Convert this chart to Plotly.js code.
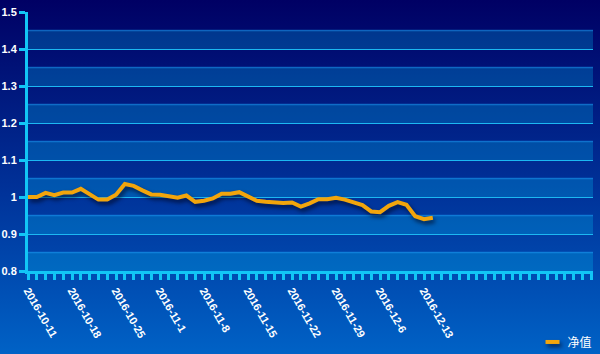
<!DOCTYPE html>
<html>
<head>
<meta charset="utf-8">
<script src="https://cdn.plot.ly/plotly-3.0.1.min.js"></script>
<style>
  html, body { margin: 0; padding: 0; }
  #chart { width: 600px; height: 354px; background: linear-gradient(to bottom, #000064 0%, #00339a 55%, #0062c6 100%); }
  .scatterlayer .trace .js-line { filter: drop-shadow(2px 3px 2px rgba(0,0,20,0.65)); }
  .legend .traces .js-line { filter: drop-shadow(2px 3px 2px rgba(0,0,20,0.65)); }
</style>
</head>
<body>
<div id="chart"></div>
<script>
// Trading dates (categories)
const dates = [
  "2016-10-11","2016-10-12","2016-10-13","2016-10-14",
  "2016-10-17","2016-10-18","2016-10-19","2016-10-20","2016-10-21",
  "2016-10-24","2016-10-25","2016-10-26","2016-10-27","2016-10-28",
  "2016-10-31","2016-11-1","2016-11-2","2016-11-3","2016-11-4",
  "2016-11-7","2016-11-8","2016-11-9","2016-11-10","2016-11-11",
  "2016-11-14","2016-11-15","2016-11-16","2016-11-17","2016-11-18",
  "2016-11-21","2016-11-22","2016-11-23","2016-11-24","2016-11-25",
  "2016-11-28","2016-11-29","2016-11-30","2016-12-1","2016-12-2",
  "2016-12-5","2016-12-6","2016-12-7","2016-12-8","2016-12-9",
  "2016-12-12","2016-12-13","2016-12-14"
];
// Net value series
const netValue = [
  1.000,1.000,1.011,1.005,1.012,1.012,1.022,1.008,0.993,0.993,
  1.006,1.035,1.030,1.018,1.007,1.006,1.002,0.998,1.004,0.987,
  0.990,0.996,1.009,1.009,1.013,1.002,0.990,0.987,0.985,0.984,
  0.985,0.974,0.983,0.994,0.994,0.998,0.993,0.986,0.978,0.961,
  0.959,0.976,0.986,0.979,0.948,0.940,0.944
];
const seriesName = "净值";
const yTicks = [0.8, 0.9, 1.0, 1.1, 1.2, 1.3, 1.4, 1.5];
const labelEvery = 5;
const totalSlots = 64;

const xIdx = dates.map((d, i) => i);
const tickvals = [];
const ticktext = [];
for (let i = 0; i <= totalSlots; i++) {
  tickvals.push(i);
  ticktext.push(i < dates.length && i % labelEvery === 0 ? dates[i] : "");
}

const shapes = [];
for (let k = 0; k < yTicks.length - 1; k++) {
  const lo = yTicks[k], mid = +(lo + 0.05).toFixed(2);
  shapes.push({type: "rect", xref: "paper", x0: 0, x1: 1, yref: "y", y0: lo, y1: mid,
    fillcolor: "rgba(0,213,255,0.23)", line: {width: 0}, layer: "below"});
  shapes.push({type: "line", xref: "paper", x0: 0, x1: 1, yref: "y", y0: mid, y1: mid,
    line: {color: "rgba(30,170,255,0.5)", width: 1.5}, layer: "below"});
}

const trace = {
  x: xIdx, y: netValue, name: seriesName, type: "scatter", mode: "lines",
  line: {color: "#f2a50c", width: 4}, showlegend: true,
  hoverinfo: "skip"
};

const layout = {
  width: 600, height: 354,
  margin: {l: 28, r: 7, t: 12, b: 83, autoexpand: false},
  paper_bgcolor: "rgba(0,0,0,0)", plot_bgcolor: "rgba(0,0,0,0)",
  font: {family: "Liberation Sans, Arial, sans-serif", color: "#ffffff", size: 11},
  xaxis: {
    range: [0, 64.2], tickmode: "array", tickvals: tickvals, ticktext: ticktext,
    tickangle: 60, ticks: "outside", ticklen: 6, tickwidth: 3, tickcolor: "#12c6f6",
    showline: true, linecolor: "#12c6f6", linewidth: 3, showgrid: false, zeroline: false,
    tickfont: {size: 11, color: "#ffffff", weight: "bold"}, fixedrange: true, automargin: false
  },
  yaxis: {
    range: [0.8, 1.5], tickvals: yTicks, ticks: "outside", ticklen: 6, tickwidth: 3,
    tickcolor: "#12c6f6", showline: true, linecolor: "#12c6f6", linewidth: 3,
    showgrid: true, gridcolor: "#1cb8f2", gridwidth: 1, zeroline: false,
    tickfont: {size: 11, color: "#ffffff", weight: "bold"}, fixedrange: true, automargin: false
  },
  shapes: shapes,
  showlegend: true,
  legend: {x: 1.008, xanchor: "right", y: -0.274, yanchor: "middle", orientation: "h",
    bgcolor: "rgba(0,0,0,0)", font: {family: "Noto Sans CJK SC, sans-serif", size: 12, color: "#ffffff"}}
};

Plotly.newPlot("chart", [trace], layout, {displayModeBar: false, staticPlot: true}).then(function (gd) {
  // shorten the legend line sample to match the short swatch of the reference
  const p = gd.querySelector(".legend .traces .js-line");
  if (p) p.setAttribute("d", "M18,0h14");
});
</script>
</body>
</html>
